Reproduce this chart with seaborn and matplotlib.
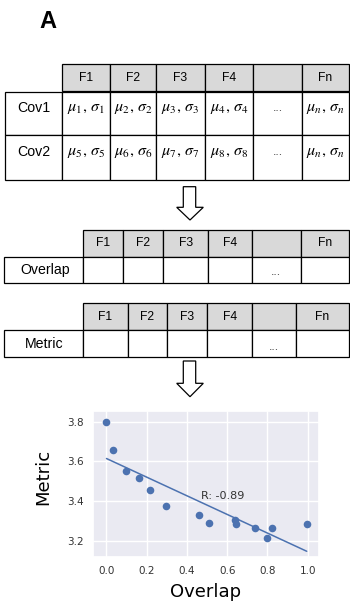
import numpy as np
import pandas as pd
import seaborn as sns
import matplotlib.pyplot as plt
from matplotlib.patches import Rectangle, Polygon

# ---- data ----
feature_names = ['F1', 'F2', 'F3', 'F4', '', 'Fn']
cov_rows = ['Cov1', 'Cov2']
cov1_cells = [r'$\mu_1,\, \sigma_1$', r'$\mu_2,\, \sigma_2$', r'$\mu_3,\, \sigma_3$',
              r'$\mu_4,\, \sigma_4$', '...', r'$\mu_n,\, \sigma_n$']
cov2_cells = [r'$\mu_5,\, \sigma_5$', r'$\mu_6,\, \sigma_6$', r'$\mu_7,\, \sigma_7$',
              r'$\mu_8,\, \sigma_8$', '...', r'$\mu_n,\, \sigma_n$']
summary_cells = ['', '', '', '', '...', '']

overlap = [0.0, 0.033, 0.096, 0.160, 0.217, 0.296, 0.459, 0.510,
           0.639, 0.644, 0.736, 0.799, 0.824, 0.995]
metric = [3.800, 3.657, 3.552, 3.516, 3.454, 3.375, 3.331, 3.290,
          3.305, 3.283, 3.266, 3.216, 3.263, 3.283]
r_label = 'R: -0.89'

df = pd.DataFrame({'Overlap': overlap, 'Metric': metric})

# ---- style ----
sns.set_theme(style='darkgrid')
plt.rcParams['mathtext.fontset'] = 'stix'

W, H = 350, 607
fig = plt.figure(figsize=(W / 100, H / 100), dpi=100)
fig.patch.set_facecolor('white')

# overlay axes in pixel coordinates for the tables / arrows
ax0 = fig.add_axes([0, 0, 1, 1], zorder=0)
ax0.set_xlim(0, W)
ax0.set_ylim(H, 0)
ax0.axis('off')

LW = 0.9
HDR = '#d9d9d9'
FONT = 'Liberation Sans'


def draw_table(edges, hdr_top, hdr_bot, row_bots, left, labels, rows, text_y,
               label_x):
    # header row (grey)
    for i in range(len(edges) - 1):
        ax0.add_patch(Rectangle((edges[i], hdr_top), edges[i + 1] - edges[i],
                                hdr_bot - hdr_top, facecolor=HDR,
                                edgecolor='black', lw=LW))
        ax0.text((edges[i] + edges[i + 1]) / 2, (hdr_top + hdr_bot) / 2,
                 feature_names[i], ha='center', va='center', family=FONT,
                 fontsize=8.7, color='black')
    # body rows
    top = hdr_bot
    for r, (lab, cells) in enumerate(zip(labels, rows)):
        bot = row_bots[r]
        ax0.add_patch(Rectangle((left, top), edges[0] - left, bot - top,
                                facecolor='white', edgecolor='black', lw=LW))
        ax0.text(label_x, text_y[r][0], lab, ha='center', va='center',
                 family=FONT, fontsize=10.2, color='black')
        for i in range(len(edges) - 1):
            ax0.add_patch(Rectangle((edges[i], top), edges[i + 1] - edges[i],
                                    bot - top, facecolor='white',
                                    edgecolor='black', lw=LW))
            c = cells[i]
            if c == '...':
                ax0.text((edges[i] + edges[i + 1]) / 2, text_y[r][1], c,
                         ha='center', va='center', family=FONT,
                         fontsize=9, color='#444444')
            elif c:
                ax0.text((edges[i] + edges[i + 1]) / 2, text_y[r][1], c,
                         ha='center', va='center', fontsize=11.5,
                         color='black')
        top = bot


def draw_arrow(top, head, tip):
    pts = [(183.3, top), (195.7, top), (195.7, head), (203.3, head),
           (190, tip), (176.7, head), (183.3, head)]
    ax0.add_patch(Polygon(pts, closed=True, facecolor='white',
                          edgecolor='black', lw=LW))


ax0.text(39, 21, 'A', ha='left', va='center', family=FONT,
         fontsize=17, fontweight='bold', color='black')

draw_table([62, 110, 156, 205, 253.3, 301.7, 349], 64.3, 91.5, [135, 180], 5,
           cov_rows, [cov1_cells, cov2_cells], [(108, 108), (152, 152)], 34)
draw_arrow(186.7, 207.3, 220)
draw_table([82.7, 123.3, 163.3, 208.3, 251.7, 301, 349], 230, 256.7, [282.7], 4,
           ['Overlap'], [summary_cells], [(270, 272)], 45)
draw_table([83.3, 127.7, 166.7, 207.3, 252.3, 295.7, 349], 303.3, 330, [356.7], 4,
           ['Metric'], [summary_cells], [(344, 347)], 44.5)
draw_arrow(361, 383.3, 396.7)

# ---- scatter with regression ----
ax = fig.add_axes([93 / W, 1 - 557 / H, 226 / W, 146 / H], zorder=1)
sns.regplot(data=df, x='Overlap', y='Metric', ax=ax, ci=None,
            color='#4c72b0', scatter_kws={'s': 30, 'linewidths': 0, 'alpha': 1},
            line_kws={'lw': 1.1})
ax.set_xlim(-0.067, 1.056)
ax.set_ylim(3.118, 3.854)
ax.set_xticks([0.0, 0.2, 0.4, 0.6, 0.8, 1.0])
ax.set_yticks([3.2, 3.4, 3.6, 3.8])
ax.tick_params(axis='both', labelsize=7.5, pad=6.5, length=0,
               labelcolor='#333333')
ax.text(0.47, 3.40, r_label, fontsize=8, color='#333333', va='bottom')
ax.set_xlabel('Overlap', fontsize=13, color='black', va='center')
ax.set_ylabel('Metric', fontsize=13, color='black', va='center')
ax.xaxis.set_label_coords(0.496, -0.24)
ax.yaxis.set_label_coords(-0.221, 0.548)

plt.savefig('out.png', dpi=100, facecolor='white')
